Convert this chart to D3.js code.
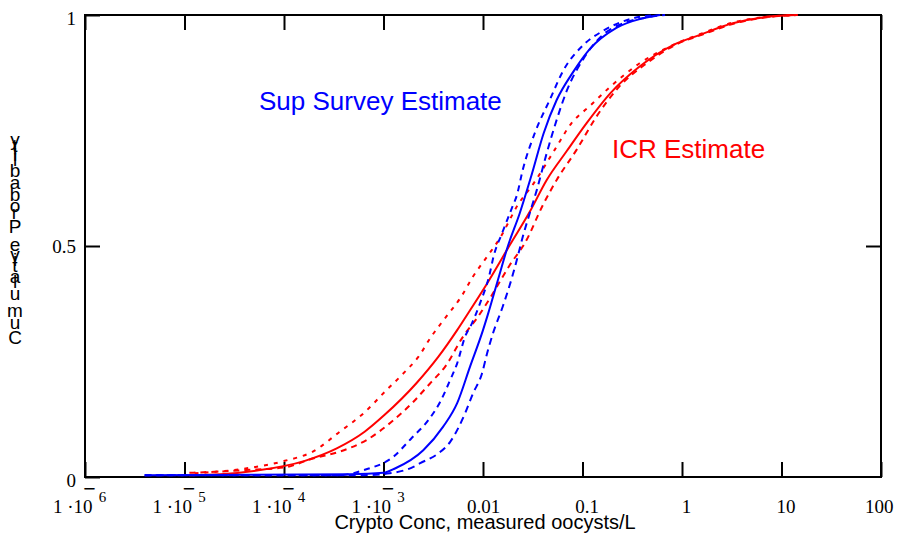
<!DOCTYPE html>
<html>
<head>
<meta charset="utf-8">
<script src="https://cdn.jsdelivr.net/npm/d3@7"></script>
<style>
  html, body { margin: 0; padding: 0; background: #fff; }
  svg { display: block; }
</style>
</head>
<body>
<div id="chart"></div>
<script>
'use strict'

////////////////////////////////////
////////////// data ////////////////
////////////////////////////////////

// tick values
const decades = [1e-6, 1e-5, 1e-4, 1e-3, 0.01, 0.1, 1, 10, 100]
const probTicks = [0, 0.5, 1]

// [crypto conc (oocysts/L), cumulative probability]
const supMid = [[3.98e-6, .004], [4.57e-4, .006], [1.0e-3, .009], [1.32e-3, .019], [2.51e-3, .058], [3.98e-3, .109], [5.5e-3, .160], [7.41e-3, .239], [1.0e-2, .318], [1.12e-2, .352], [1.41e-2, .426], [1.78e-2, .50], [2.34e-2, .571], [3.09e-2, .655], [4.07e-2, .744], [5.5e-2, .816], [8.13e-2, .878], [0.117, .925], [0.219, .972], [0.407, .993], [0.603, 1]]
const supLow = [[3.98e-6, .004], [3.63e-4, .004], [6.31e-4, .015], [1.26e-3, .044], [1.91e-3, .084], [2.82e-3, .123], [3.72e-3, .163], [4.68e-3, .210], [5.5e-3, .246], [6.61e-3, .304], [7.76e-3, .333], [9.33e-3, .376], [1.15e-2, .434], [1.29e-2, .481], [1.55e-2, .527], [1.95e-2, .582], [2.19e-2, .61], [2.51e-2, .665], [3.31e-2, .744], [4.68e-2, .816], [6.46e-2, .881], [0.102, .935], [0.162, .966], [0.324, .993], [0.537, 1]]
const supHigh = [[3.98e-6, .004], [6.31e-4, .004], [1.15e-3, .008], [2.0e-3, .022], [2.34e-3, .030], [3.39e-3, .048], [4.68e-3, .076], [6.61e-3, .138], [7.94e-3, .181], [9.77e-3, .224], [1.10e-2, .268], [1.26e-2, .311], [1.58e-2, .369], [1.86e-2, .416], [2.19e-2, .470], [2.51e-2, .520], [2.95e-2, .571], [3.47e-2, .621], [4.37e-2, .701], [5.5e-2, .773], [6.92e-2, .835], [0.102, .905], [0.162, .958], [0.257, .982], [0.479, .996], [0.676, 1]]

const icrMid = [[1.12e-5, .004], [2.29e-5, .006], [5.37e-5, .014], [1.62e-4, .035], [3.39e-4, .062], [6.46e-4, .098], [1.02e-3, .134], [2.14e-3, .203], [3.55e-3, .260], [5.5e-3, .318], [7.41e-3, .361], [1.10e-2, .419], [1.86e-2, .502], [2.95e-2, .574], [4.37e-2, .643], [6.92e-2, .705], [0.110, .766], [0.191, .831], [0.372, .888], [0.813, .935], [1.51, .957], [3.24, .982], [7.08, .996], [14.5, 1]]
const icrLow = [[1.26e-5, .008], [3.98e-5, .018], [1.02e-4, .035], [1.95e-4, .055], [3.63e-4, .098], [6.31e-4, .138], [1.07e-3, .188], [1.58e-3, .224], [2.24e-3, .260], [3.02e-3, .304], [4.27e-3, .347], [6.03e-3, .390], [7.94e-3, .434], [1.10e-2, .477], [1.48e-2, .517], [2.24e-2, .589], [3.24e-2, .636], [5.25e-2, .708], [7.76e-2, .766], [0.117, .802], [0.191, .845], [0.372, .895], [0.813, .935], [1.58, .96], [3.16, .983], [7.08, .996], [14.5, 1]]
const icrHigh = [[1.12e-5, .009], [4.17e-5, .015], [1.02e-4, .021], [1.95e-4, .040], [3.63e-4, .055], [6.76e-4, .080], [1.26e-3, .123], [2.0e-3, .163], [2.95e-3, .203], [4.17e-3, .239], [6.31e-3, .304], [8.91e-3, .347], [1.23e-2, .394], [1.86e-2, .459], [2.63e-2, .506], [4.07e-2, .592], [5.5e-2, .643], [8.71e-2, .708], [0.138, .780], [0.234, .845], [0.437, .895], [0.933, .939], [1.58, .957], [3.16, .98], [7.08, .995], [14.5, 1]]

////////////////////////////////////
//////////// svg setup /////////////
////////////////////////////////////

const margin = { left: 85, right: 23, top: 15, bottom: 58 }
const svgWidth = 904
const svgHeight = 535
const width = svgWidth - margin.left - margin.right
const height = svgHeight - margin.top - margin.bottom

const svg = d3.select('#chart')
    .append('svg')
    .attr('width', svgWidth)
    .attr('height', svgHeight)
    .append('g')
    .attr('transform', `translate(${margin.left},${margin.top})`)

const x = d3.scaleLog().domain([1e-6, 100]).range([0, width])
const y = d3.scaleLinear().domain([0, 1]).range([height, 0])

const serif = '"Liberation Serif", "Times New Roman", serif'
const sans = '"Liberation Sans", Arial, sans-serif'

////////////////////////////////////
////////////// frame ///////////////
////////////////////////////////////

svg.append('rect')
    .attr('width', width)
    .attr('height', height)
    .attr('fill', 'none')
    .attr('stroke', '#000')
    .attr('stroke-width', 2)

function styleTicks(g) {
    g.select('.domain').remove()
    g.selectAll('.tick line').attr('stroke', '#000').attr('stroke-width', 2)
}

svg.append('g')
    .call(d3.axisTop(x).tickValues(decades).tickSizeInner(-15).tickSizeOuter(0).tickFormat(''))
    .call(styleTicks)

svg.append('g')
    .attr('transform', `translate(${width},0)`)
    .call(d3.axisRight(y).tickValues([0.5]).tickSizeInner(-15).tickSizeOuter(0).tickFormat(''))
    .call(styleTicks)

const yAxis = svg.append('g')
    .call(d3.axisLeft(y).tickValues(probTicks).tickSizeInner(-15).tickSizeOuter(0).tickPadding(9).tickFormat(d3.format('~g')))
    .call(styleTicks)
    .attr('font-family', serif)
    .attr('font-size', 19)

yAxis.selectAll('.tick text')
    .attr('fill', '#000')
    .attr('y', d => d === 1 ? 3 : d === 0 ? 3 : 0)

const xAxis = svg.append('g')
    .attr('transform', `translate(0,${height})`)
    .call(d3.axisBottom(x).tickValues(decades).tickSizeInner(-15).tickSizeOuter(0).tickFormat(''))
    .call(styleTicks)
    .attr('font-family', serif)
    .attr('font-size', 19)

xAxis.selectAll('.tick').each(function (d) {
    const g = d3.select(this)
    const e = Math.round(Math.log10(d))
    if (e < -2) {
        g.append('text').attr('fill', '#000').attr('x', 7).attr('y', 36)
            .attr('text-anchor', 'end').text('1 \u00B710')
        g.append('text').attr('fill', '#000').attr('x', 4).attr('y', 19)
            .attr('font-size', 22).attr('font-weight', 'bold').text('\u2212')
        g.append('text').attr('fill', '#000').attr('x', 17).attr('y', 25)
            .attr('font-size', 15).text(-e)
    } else {
        const last = d === decades[decades.length - 1]
        g.append('text').attr('fill', '#000')
            .attr('x', last ? 12 : (e === -2 ? 0 : 4))
            .attr('y', 36)
            .attr('text-anchor', last ? 'end' : 'middle')
            .text(d3.format('~g')(d))
    }
})

////////////////////////////////////
////////////// curves //////////////
////////////////////////////////////

const series = [
    { data: icrLow, color: '#ff0000', dash: '4,6' },
    { data: icrHigh, color: '#ff0000', dash: '6,5' },
    { data: icrMid, color: '#ff0000', dash: null },
    { data: supLow, color: '#0000ff', dash: '6,5' },
    { data: supHigh, color: '#0000ff', dash: '7,5' },
    { data: supMid, color: '#0000ff', dash: null }
]

const line = d3.line()
    .x(d => x(d[0]))
    .y(d => y(d[1]))
    .curve(d3.curveMonotoneX)

svg.append('g')
    .selectAll('path')
    .data(series)
    .join('path')
    .attr('d', d => line(d.data))
    .attr('fill', 'none')
    .attr('stroke', d => d.color)
    .attr('stroke-width', 2)
    .attr('stroke-dasharray', d => d.dash)

////////////////////////////////////
////////////// labels //////////////
////////////////////////////////////

svg.append('text')
    .attr('x', 174).attr('y', 95)
    .attr('font-family', sans).attr('font-size', 26)
    .attr('fill', '#0000ff')
    .text('Sup Survey Estimate')

svg.append('text')
    .attr('x', 527).attr('y', 143)
    .attr('font-family', sans).attr('font-size', 26)
    .attr('fill', '#ff0000')
    .text('ICR Estimate')

svg.append('text')
    .attr('x', 400).attr('y', 514)
    .attr('text-anchor', 'middle')
    .attr('font-family', sans).attr('font-size', 20)
    .text('Crypto Conc, measured oocysts/L')

// y title: upright glyphs stacked bottom-to-top at their running advance
const yLabel = 'Cumulative Probability'
const probe = svg.append('text').attr('font-family', sans).attr('font-size', 19).text(yLabel)
const adv = d3.range(yLabel.length).map(i => i === 0 ? 0 : probe.node().getSubStringLength(0, i))
probe.remove()
const rise = 198 / adv[adv.length - 1]

svg.append('g')
    .attr('font-family', sans).attr('font-size', 19)
    .selectAll('text')
    .data(yLabel.split('').map((c, i) => ({ c, off: adv[i] })).filter(d => d.c !== ' '))
    .join('text')
    .attr('x', -70)
    .attr('y', d => 329 - d.off * rise)
    .attr('text-anchor', 'middle')
    .text(d => d.c)
</script>
</body>
</html>
